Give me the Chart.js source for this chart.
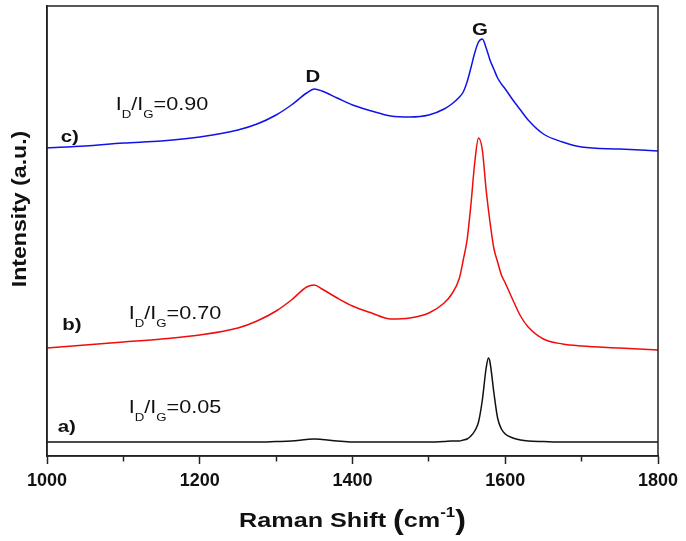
<!DOCTYPE html>
<html>
<head>
<meta charset="utf-8">
<script src="https://cdn.jsdelivr.net/npm/chart.js@4.4.1/dist/chart.umd.min.js"></script>
<style>
  html, body { margin: 0; padding: 0; background: #fff; }
</style>
</head>
<body>
<canvas id="_raman" width="686" height="541"></canvas>
<script>
// Raman shift (cm-1) sample positions
const shift = [1000, 1050, 1100, 1150, 1200, 1250, 1275, 1300, 1320, 1340, 1350, 1360, 1380, 1400,
    1425, 1450, 1475, 1500, 1520, 1530, 1540, 1545, 1550, 1555, 1560, 1565, 1570, 1575, 1578, 1580,
    1585, 1590, 1595, 1600, 1610, 1620, 1630, 1650, 1675, 1700, 1750, 1800];

// intensities (a.u., stacked offsets included)
const sampleA = [14, 14, 14, 14, 14, 14, 14, 14.5, 15, 16.5, 17, 16.5, 15, 14,
    14, 14, 14, 14, 14.5, 15, 15, 16, 17, 20, 25, 34, 56, 88, 98, 94,
    64, 38, 27, 22, 18, 16, 15, 14.5, 14, 14, 14, 14];
const sampleB = [108, 111, 114, 117, 121, 128, 135, 145, 156, 169, 171, 167, 158, 150,
    143, 137, 138, 143, 153, 162, 178, 196, 216, 251, 293, 318, 306, 266, 246, 234,
    208, 194, 181, 173, 156, 140, 129, 117, 112, 110, 108, 106];
const sampleC = [308, 310, 313, 315, 319, 326, 332, 341, 351, 363, 367, 365, 358, 351,
    345, 340, 339, 341, 347, 352, 359, 364, 374, 388, 403, 414, 417, 408, 401, 396,
    387, 378, 372, 367, 356, 346, 336, 322, 314, 309, 307, 305];

const xTicks = [1000, 1200, 1400, 1600, 1800];
const sampleNames = ['a)', 'b)', 'c)'];
const ratios = ['0.05', '0.70', '0.90'];
const bandNames = ['D', 'G'];

// where the annotations sit, in axis units
const sampleNamePos = [[1014, 24], [1020, 126], [1018, 314]];
const ratioPos = [[1107, 43], [1107, 137], [1090, 346]];
const bandPos = [[1348, 374], [1567, 421]];

const STRETCH = 1.2;
const FONT = '"Liberation Sans", Arial, sans-serif';

// draw a list of text runs, stretched horizontally like the original figure
function textRuns(ctx, x, y, runs, align, stretch) {
    let total = 0;
    runs.forEach(r => {
        ctx.font = (r.bold ? 'bold ' : '') + r.size + 'px ' + FONT;
        r.w = ctx.measureText(r.t).width;
        total += r.w;
    });
    ctx.save();
    ctx.translate(x, y);
    ctx.scale(stretch, 1);
    let cx = align === 'center' ? -total / 2 : 0;
    runs.forEach(r => {
        ctx.font = (r.bold ? 'bold ' : '') + r.size + 'px ' + FONT;
        ctx.fillText(r.t, cx, r.dy || 0);
        cx += r.w;
    });
    ctx.restore();
}

const annotations = {
    id: 'annotations',
    afterDraw(chart) {
        const { ctx, chartArea: { left, right, top, bottom }, scales: { x, y } } = chart;
        ctx.save();

        // box frame
        ctx.strokeStyle = '#222';
        ctx.lineWidth = 1.5;
        ctx.strokeRect(left, top, right - left, bottom - top);

        ctx.fillStyle = '#111';
        ctx.textBaseline = 'alphabetic';

        sampleNames.forEach((name, i) => {
            const p = sampleNamePos[i];
            textRuns(ctx, x.getPixelForValue(p[0]), y.getPixelForValue(p[1]),
                [{ t: name, size: 17, bold: true }], 'left', STRETCH);
        });

        ratios.forEach((r, i) => {
            const p = ratioPos[i];
            textRuns(ctx, x.getPixelForValue(p[0]), y.getPixelForValue(p[1]), [
                { t: 'I', size: 18 },
                { t: 'D', size: 11, dy: 8 },
                { t: '/I', size: 18 },
                { t: 'G', size: 11, dy: 8 },
                { t: '=' + r, size: 18 }
            ], 'left', STRETCH);
        });

        bandNames.forEach((b, i) => {
            const p = bandPos[i];
            textRuns(ctx, x.getPixelForValue(p[0]), y.getPixelForValue(p[1]),
                [{ t: b, size: 17, bold: true }], 'center', STRETCH);
        });

        // axis titles
        textRuns(ctx, (left + right) / 2, 527, [
            { t: 'Raman Shift ', size: 21, bold: true },
            { t: '(', size: 27, bold: true, dy: 2 },
            { t: 'cm', size: 21, bold: true },
            { t: '-1', size: 14, bold: true, dy: -10 },
            { t: ')', size: 27, bold: true, dy: 2 }
        ], 'center', STRETCH);

        ctx.save();
        ctx.translate(26, 209);
        ctx.rotate(-Math.PI / 2);
        textRuns(ctx, 0, 0, [{ t: 'Intensity (a.u.)', size: 21, bold: true }], 'center', 1.1);
        ctx.restore();

        ctx.restore();
    }
};

function series(values, color) {
    return {
        data: shift.map((s, i) => ({ x: s, y: values[i] })),
        borderColor: color,
        borderWidth: 1.5,
        pointRadius: 0,
        cubicInterpolationMode: 'monotone',
        fill: false
    };
}

new Chart(document.getElementById('_raman'), {
    type: 'line',
    data: {
        datasets: [
            series(sampleA, '#111'),
            series(sampleB, 'rgb(240, 12, 12)'),
            series(sampleC, 'rgb(18, 18, 232)')
        ]
    },
    options: {
        responsive: false,
        animation: false,
        devicePixelRatio: 1,
        layout: { padding: { left: 0, right: 28, top: 6, bottom: 0 } },
        plugins: {
            legend: { display: false },
            tooltip: { enabled: false }
        },
        scales: {
            x: {
                type: 'linear',
                min: 1000,
                max: 1800,
                afterFit(scale) { scale.height = 85; },
                border: { color: '#222', width: 1.5 },
                grid: {
                    drawOnChartArea: false,
                    tickLength: 8,
                    tickColor: '#222',
                    tickWidth: 1.5,
                    tickBorderDash: (c) => (c.tick && xTicks.includes(c.tick.value)) ? [] : [5, 20]
                },
                ticks: {
                    stepSize: 100,
                    padding: 6,
                    color: '#111',
                    maxRotation: 0,
                    autoSkip: false,
                    font: { family: FONT, size: 18, weight: 'bold' },
                    callback: (v) => xTicks.includes(v) ? v : ''
                }
            },
            y: {
                min: 0,
                max: 450,
                afterFit(scale) { scale.width = 47; },
                border: { color: '#222', width: 1.5 },
                grid: { display: false },
                ticks: { display: false }
            }
        }
    },
    plugins: [annotations]
});
</script>
</body>
</html>
